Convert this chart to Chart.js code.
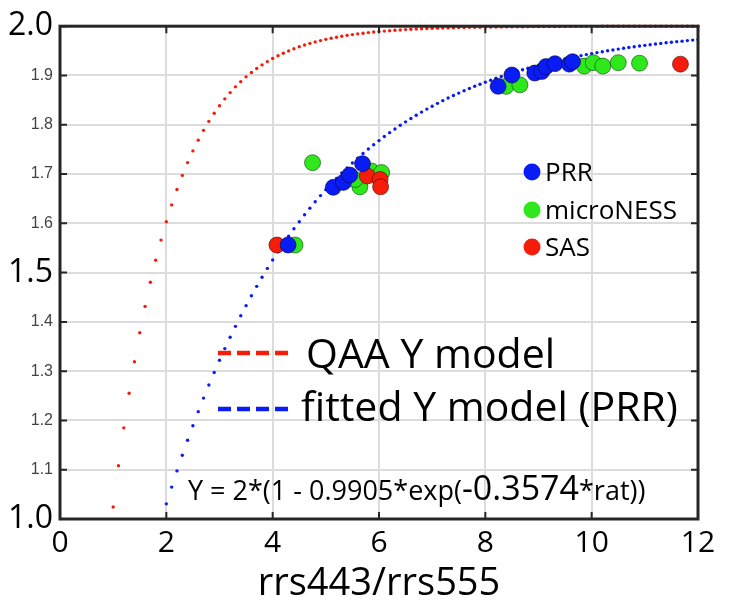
<!DOCTYPE html>
<html lang="en">
<head>
<meta charset="UTF-8">
<title>Y model vs rrs443/rrs555</title>
<script src="https://cdn.jsdelivr.net/npm/chart.js"></script>
<style>
  body { margin: 0; background: #fff; }
  #grafico { display: block; }
</style>
</head>
<body>
<canvas id="grafico" width="730" height="613"></canvas>
<script>
// --- dados ---
// curvas pontilhadas: um ponto a cada 0.1 de rrs443/rrs555
const ratioStep = 0.1;
const qaaStart = 1.0;
const qaaY = [
  1.0242, 1.1082, 1.1850, 1.2551, 1.3192, 1.3778, 1.4314, 1.4803, 1.5250, 1.5659,
  1.6033, 1.6374, 1.6686, 1.6972, 1.7232, 1.7470, 1.7688, 1.7887, 1.8069, 1.8235,
  1.8387, 1.8526, 1.8653, 1.8769, 1.8875, 1.8972, 1.9060, 1.9141, 1.9215, 1.9282,
  1.9344, 1.9401, 1.9452, 1.9499, 1.9542, 1.9582, 1.9618, 1.9651, 1.9681, 1.9708,
  1.9733, 1.9756, 1.9777, 1.9796, 1.9814, 1.9830, 1.9845, 1.9858, 1.9870, 1.9881,
  1.9892, 1.9901, 1.9909, 1.9917, 1.9924, 1.9931, 1.9937, 1.9942, 1.9947, 1.9952,
  1.9956, 1.9960, 1.9963, 1.9966, 1.9969, 1.9972, 1.9974, 1.9977, 1.9979, 1.9980,
  1.9982, 1.9984, 1.9985, 1.9986, 1.9987, 1.9989, 1.9990, 1.9990, 1.9991, 1.9992,
  1.9993, 1.9993, 1.9994, 1.9994, 1.9995, 1.9995, 1.9996, 1.9996, 1.9996, 1.9997,
  1.9997, 1.9997, 1.9998, 1.9998, 1.9998, 1.9998, 1.9998, 1.9998, 1.9999, 1.9999,
  1.9999, 1.9999, 1.9999, 1.9999, 1.9999, 1.9999, 1.9999, 1.9999, 1.9999, 1.9999,
  2.0000
];
const fitStart = 2.0;
const fitY = [
  1.0307, 1.0647, 1.0976, 1.1293, 1.1598, 1.1893, 1.2178, 1.2453, 1.2718, 1.2973,
  1.3220, 1.3458, 1.3688, 1.3909, 1.4123, 1.4329, 1.4529, 1.4721, 1.4906, 1.5085,
  1.5257, 1.5424, 1.5585, 1.5740, 1.5889, 1.6033, 1.6173, 1.6307, 1.6437, 1.6562,
  1.6683, 1.6799, 1.6911, 1.7020, 1.7125, 1.7225, 1.7323, 1.7417, 1.7508, 1.7595,
  1.7679, 1.7761, 1.7840, 1.7915, 1.7989, 1.8059, 1.8127, 1.8193, 1.8257, 1.8318,
  1.8377, 1.8434, 1.8489, 1.8542, 1.8593, 1.8642, 1.8690, 1.8736, 1.8780, 1.8823,
  1.8865, 1.8904, 1.8943, 1.8980, 1.9016, 1.9050, 1.9084, 1.9116, 1.9147, 1.9177,
  1.9206, 1.9234, 1.9261, 1.9287, 1.9312, 1.9336, 1.9359, 1.9382, 1.9403, 1.9424,
  1.9444, 1.9464, 1.9483, 1.9501, 1.9518, 1.9535, 1.9552, 1.9567, 1.9583, 1.9597,
  1.9611, 1.9625, 1.9638, 1.9651, 1.9663, 1.9675, 1.9686, 1.9697, 1.9708, 1.9718,
  1.9728
];

// medidas
const prrX  = [4.29, 5.14, 5.33, 5.45, 5.69, 8.24, 8.50, 8.93, 9.06, 9.14, 9.31, 9.58, 9.64];
const prrY  = [1.556, 1.673, 1.683, 1.698, 1.721, 1.878, 1.901, 1.905, 1.908, 1.918, 1.924, 1.923, 1.928];
const nessX = [4.42, 4.75, 5.64, 5.55, 5.86, 6.05, 8.39, 8.65, 9.86, 10.03, 10.21, 10.50, 10.90];
const nessY = [1.556, 1.723, 1.674, 1.689, 1.706, 1.703, 1.878, 1.881, 1.919, 1.926, 1.919, 1.926, 1.925];
const sasX  = [4.08, 5.78, 6.02, 6.03, 11.67];
const sasY  = [1.556, 1.696, 1.689, 1.674, 1.923];

const bigYTicks = [1.0, 1.5, 2.0];

const corAzul = '#0a1cf5';
const corVerde = '#2fe81c';
const corVermelho = '#f51d0a';
const fonteCalibri = '"Open Sans", sans-serif';

function pares(xs, ys) {
  return xs.map(function (v, i) { return { x: v, y: ys[i] }; });
}
function curva(inicio, ys) {
  return ys.map(function (v, i) { return { x: +(inicio + i * ratioStep).toFixed(1), y: v }; });
}
function tickGrande(c) {
  return c && c.tick ? bigYTicks.includes(+c.tick.value.toFixed(1)) : false;
}

// moldura estilo matlab: caixa fechada + ticks para dentro
const molduraPlugin = {
  id: 'moldura',
  afterDatasetsDraw(chart) {
    const { ctx, chartArea: a, scales: { x, y } } = chart;
    ctx.save();
    ctx.strokeStyle = '#262626';
    ctx.lineWidth = 2;
    ctx.beginPath();
    x.ticks.forEach(function (t) {
      const px = x.getPixelForValue(t.value);
      ctx.moveTo(px, a.top); ctx.lineTo(px, a.top + 7);
      ctx.moveTo(px, a.bottom); ctx.lineTo(px, a.bottom - 7);
    });
    y.ticks.forEach(function (t) {
      const py = y.getPixelForValue(t.value);
      ctx.moveTo(a.left, py); ctx.lineTo(a.left + 7, py);
      ctx.moveTo(a.right, py); ctx.lineTo(a.right - 7, py);
    });
    ctx.stroke();
    ctx.lineWidth = 3;
    ctx.strokeRect(a.left, a.top, a.right - a.left, a.bottom - a.top);
    ctx.restore();
  }
};

// legendas e a formula escritas dentro do grafico
const textosPlugin = {
  id: 'textos',
  afterDraw(chart) {
    const ctx = chart.ctx;
    ctx.save();
    ctx.textBaseline = 'alphabetic';
    ctx.textAlign = 'left';

    // legenda das medidas
    const itens = [['PRR', corAzul, 172], ['microNESS', corVerde, 210], ['SAS', corVermelho, 247]];
    ctx.font = '26px ' + fonteCalibri;
    itens.forEach(function (it) {
      ctx.fillStyle = it[1];
      ctx.beginPath();
      ctx.arc(532, it[2], 8.5, 0, Math.PI * 2);
      ctx.fill();
      ctx.fillStyle = '#000';
      ctx.fillText(it[0], 545, it[2] + 9);
    });

    // legenda das curvas
    ctx.lineWidth = 4.5;
    ctx.setLineDash([13, 6]);
    ctx.strokeStyle = corVermelho;
    ctx.beginPath(); ctx.moveTo(218, 353); ctx.lineTo(288, 353); ctx.stroke();
    ctx.strokeStyle = corAzul;
    ctx.beginPath(); ctx.moveTo(218, 409); ctx.lineTo(288, 409); ctx.stroke();
    ctx.setLineDash([]);
    ctx.fillStyle = '#000';
    ctx.font = '41px ' + fonteCalibri;
    ctx.fillText('QAA Y model', 306, 368);
    ctx.fillText('fitted Y model (PRR)', 301, 421);

    // formula
    let xf = 188;
    ctx.font = '27px ' + fonteCalibri;
    ctx.fillText('Y = 2*(1 - 0.9905*exp(', xf, 500);
    xf += ctx.measureText('Y = 2*(1 - 0.9905*exp(').width;
    ctx.font = '34px ' + fonteCalibri;
    ctx.fillText('-0.3574', xf, 500);
    xf += ctx.measureText('-0.3574').width;
    ctx.font = '27px ' + fonteCalibri;
    ctx.fillText('*rat))', xf, 500);
    ctx.restore();
  }
};

const config = {
  type: 'scatter',
  data: {
    datasets: [
      { label: 'PRR', data: pares(prrX, prrY), backgroundColor: corAzul, borderColor: 'rgba(0,0,40,0.55)', borderWidth: 1, pointRadius: 8, order: 0 },
      { label: 'SAS', data: pares(sasX, sasY), backgroundColor: corVermelho, borderColor: 'rgba(60,0,0,0.55)', borderWidth: 1, pointRadius: 8, order: 1 },
      { label: 'microNESS', data: pares(nessX, nessY), backgroundColor: corVerde, borderColor: 'rgba(0,50,0,0.55)', borderWidth: 1, pointRadius: 8, order: 2 },
      { label: 'fitted Y model (PRR)', data: curva(fitStart, fitY), backgroundColor: corAzul, borderWidth: 0, pointRadius: 1.7, order: 3 },
      { label: 'QAA Y model', data: curva(qaaStart, qaaY), backgroundColor: corVermelho, borderWidth: 0, pointRadius: 1.7, order: 4, clip: 3 }
    ]
  },
  options: {
    responsive: false,
    animation: false,
    events: [],
    layout: { padding: { top: 20, right: 32, left: 0, bottom: 0 } },
    plugins: {
      legend: { display: false },
      tooltip: { enabled: false }
    },
    scales: {
      x: {
        type: 'linear',
        min: 0, max: 12,
        afterFit: function (s) { s.height = 94; },
        ticks: { stepSize: 2, color: '#000', padding: 6, font: { family: fonteCalibri, size: 30 } },
        grid: { color: '#dcdcdc', lineWidth: 2, drawTicks: false },
        border: { display: false },
        title: { display: true, text: 'rrs443/rrs555', color: '#000', padding: { bottom: 6 }, font: { family: fonteCalibri, size: 38 } }
      },
      y: {
        min: 1, max: 2,
        ticks: {
          stepSize: 0.1,
          padding: 7,
          callback: function (v) { return v.toFixed(1); },
          color: function (c) { return tickGrande(c) ? '#000' : '#444'; },
          font: function (c) {
            return tickGrande(c)
              ? { family: fonteCalibri, size: 32 }
              : { family: '"Liberation Sans", Arial, sans-serif', size: 16 };
          }
        },
        afterFit: function (s) { s.width = 60; },
        grid: { color: '#dcdcdc', lineWidth: 2, drawTicks: false },
        border: { display: false }
      }
    }
  },
  plugins: [molduraPlugin, textosPlugin]
};

const grafico = new Chart(document.getElementById('grafico'), config);
</script>
</body>
</html>
